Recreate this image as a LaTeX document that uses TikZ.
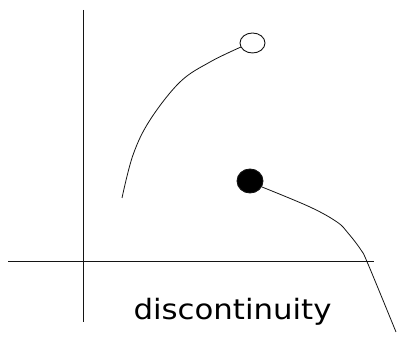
\documentclass[tikz,border=0pt]{standalone}
\usepackage{fontspec}
\setmainfont{DejaVu Sans}
\usetikzlibrary{shapes.geometric}
\definecolor{inkGray}{RGB}{20, 20, 20}

\begin{document}
\begin{tikzpicture}[x=1pt, y=-1pt,
    axis/.style={inkGray, line width=1pt},
    graphline/.style={inkGray, line width=0.8pt, smooth, tension=0.6},
    dot/.style={ellipse, draw=inkGray, line width=0.9pt, inner sep=0pt}]
        \useasboundingbox (0,0) rectangle (397,344);
        \draw[axis] (83,10) -- (83,322);
        \draw[axis] (8,262) -- (374,262);
        \node[dot, fill=white, minimum width=25pt, minimum height=20pt] (open) at (252.5,43) {};
        \node[dot, fill=black, minimum width=26pt, minimum height=24pt] (closed) at (250,181) {};
        \draw[graphline] plot coordinates {(122,198) (133,155) (150,120) (180,82) (210,62) (241,47)};
        \draw[graphline] plot coordinates {(262,187) (310,207) (337,222) (348,233) (361,250) (368,264) (396,332)};
        \node[anchor=base, font=\fontsize{28}{30}\selectfont, xscale=1.1] (label) at (232.5,320) {discontinuity};
      \end{tikzpicture}
\end{document}
